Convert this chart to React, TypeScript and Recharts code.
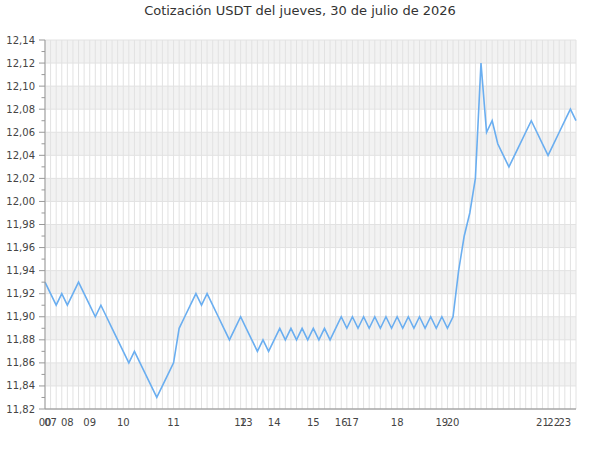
import { CartesianGrid, Line, LineChart, XAxis, YAxis } from "recharts";

// hour of the first quote in each group, and how many quotes fall in that hour
const hourLabels = [
  "00", "07", "08", "09", "10", "11", "12", "13", "14",
  "15", "16", "17", "18", "19", "20", "21", "22", "23",
];
const pointsPerHour = [1, 3, 4, 6, 9, 12, 1, 5, 7, 5, 2, 8, 8, 2, 16, 2, 2, 3];

const prices = [
  11.93, 11.92, 11.91, 11.92, 11.91, 11.92, 11.93, 11.92, 11.91, 11.9,
  11.91, 11.9, 11.89, 11.88, 11.87, 11.86, 11.87, 11.86, 11.85, 11.84,
  11.83, 11.84, 11.85, 11.86, 11.89, 11.9, 11.91, 11.92, 11.91, 11.92,
  11.91, 11.9, 11.89, 11.88, 11.89, 11.9, 11.89, 11.88, 11.87, 11.88,
  11.87, 11.88, 11.89, 11.88, 11.89, 11.88, 11.89, 11.88, 11.89, 11.88,
  11.89, 11.88, 11.89, 11.9, 11.89, 11.9, 11.89, 11.9, 11.89, 11.9,
  11.89, 11.9, 11.89, 11.9, 11.89, 11.9, 11.89, 11.9, 11.89, 11.9,
  11.89, 11.9, 11.89, 11.9, 11.94, 11.97, 11.99, 12.02, 12.12, 12.06,
  12.07, 12.05, 12.04, 12.03, 12.04, 12.05, 12.06, 12.07, 12.06, 12.05,
  12.04, 12.05, 12.06, 12.07, 12.08, 12.07,
];

const majorTicks = [
  11.82, 11.84, 11.86, 11.88, 11.9, 11.92, 11.94, 11.96, 11.98,
  12.0, 12.02, 12.04, 12.06, 12.08, 12.1, 12.12, 12.14,
];
const minorTicks = [
  11.83, 11.85, 11.87, 11.89, 11.91, 11.93, 11.95, 11.97,
  11.99, 12.01, 12.03, 12.05, 12.07, 12.09, 12.11, 12.13,
];

const title = "Cotización USDT del jueves, 30 de julio de 2026";
const font = "'DejaVu Sans', sans-serif";

type Point = { slot: number; hour: string; first: boolean; price: number };

const data: Point[] = [];
hourLabels.forEach((hour, j) => {
  for (let n = 0; n < pointsPerHour[j]; n++) {
    data.push({ slot: data.length, hour, first: n === 0, price: prices[data.length] });
  }
});

const yTicks = [...majorTicks, ...minorTicks].sort((a, b) => a - b);

function PriceTick(props: any) {
  const { x, y, payload } = props;
  const major = majorTicks.includes(payload.value);
  return (
    <g>
      <line x1={x - (major ? 6 : 3.5)} x2={x} y1={y} y2={y} stroke="#999" />
      {major && (
        <text
          x={x - 10}
          y={y}
          dy="0.35em"
          textAnchor="end"
          fontSize={10}
          fontFamily={font}
          fill="#444"
        >
          {payload.value.toFixed(2).replace(".", ",")}
        </text>
      )}
    </g>
  );
}

export default function App() {
  return (
    <div style={{ position: "absolute", left: 0, top: 0, width: 600, height: 450 }}>
      <div
        style={{
          position: "absolute",
          top: 0,
          width: 600,
          textAlign: "center",
          fontFamily: font,
          fontSize: 13,
          lineHeight: "22px",
          color: "#333",
        }}
      >
        {title}
      </div>
      <LineChart
        width={600}
        height={450}
        data={data}
        margin={{ top: 40, right: 24, bottom: 11, left: 0 }}
      >
        <CartesianGrid
          stroke="#e2e2e2"
          horizontalValues={majorTicks}
          horizontalFill={["#f2f2f2", "#ffffff"]}
          fillOpacity={1}
        />
        <XAxis
          dataKey="hour"
          interval={0}
          height={30}
          tickLine={false}
          tickSize={8}
          tickMargin={2}
          axisLine={{ stroke: "#888" }}
          tick={{ fontSize: 10, fill: "#444", fontFamily: font }}
          tickFormatter={(value, index) => (data[index]?.first ? value : "")}
        />
        <YAxis
          type="number"
          domain={[11.82, 12.14]}
          ticks={yTicks}
          interval={0}
          width={45}
          tickLine={false}
          tickSize={0}
          tickMargin={0}
          axisLine={{ stroke: "#999" }}
          tick={<PriceTick />}
        />
        <Line
          type="linear"
          dataKey="price"
          stroke="#6aaef0"
          strokeWidth={1.6}
          dot={false}
          isAnimationActive={false}
        />
      </LineChart>
    </div>
  );
}
